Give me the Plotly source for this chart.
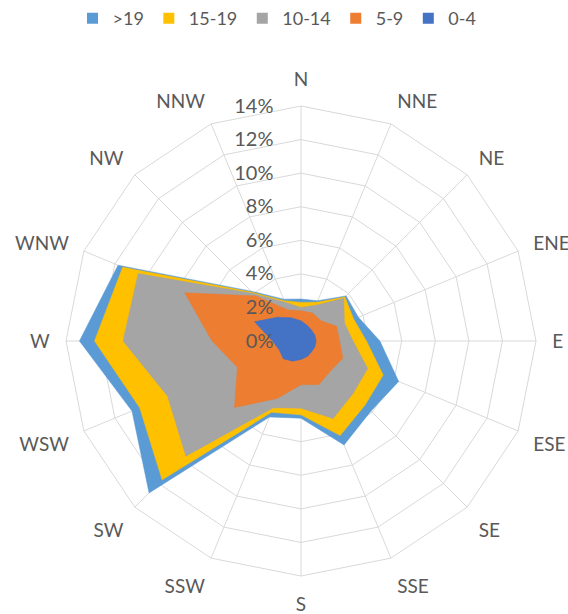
import plotly.graph_objects as go

directions = ["N", "NNE", "NE", "ENE", "E", "ESE", "SE", "SSE",
              "S", "SSW", "SW", "WSW", "W", "WNW", "NW", "NNW"]
series_names = [">19", "15-19", "10-14", "5-9", "0-4"]
colors = ["#5B9BD5", "#FFC000", "#A5A5A5", "#ED7D31", "#4472C4"]

gt19   = [2.5, 2.6, 3.8, 3.7, 4.7, 6.3, 5.9, 6.7, 4.6, 4.9, 12.8, 10.9, 13.2, 11.8, 4.2, 2.7]
s15_19 = [2.3, 2.5, 3.7, 3.4, 3.9, 5.3, 5.4, 6.1, 4.4, 4.6, 11.7, 10.4, 12.3, 11.5, 4.1, 2.6]
s10_14 = [2.0, 2.3, 3.6, 2.8, 3.1, 4.3, 4.4, 5.0, 4.0, 4.3, 9.7, 8.6, 10.6, 10.5, 4.0, 2.5]
s5_9   = [1.8, 1.8, 1.7, 2.3, 2.3, 2.7, 2.5, 2.8, 2.6, 3.7, 5.6, 4.1, 5.3, 7.5, 3.8, 2.0]
s0_4   = [1.2, 1.0, 0.9, 0.9, 0.9, 0.9, 0.9, 1.0, 1.1, 1.3, 1.5, 1.4, 1.7, 3.0, 2.0, 1.5]
series_values = [gt19, s15_19, s10_14, s5_9, s0_4]

radial_ticks = [0, 2, 4, 6, 8, 10, 12, 14]
radial_ticktext = [f"{v}%" for v in radial_ticks]

fig = go.Figure()
for name, vals, col in zip(series_names, series_values, colors):
    fig.add_trace(go.Scatterpolar(
        r=vals + vals[:1],
        theta=directions + directions[:1],
        mode="lines",
        fill="toself",
        fillcolor=col,
        line=dict(color=col, width=0.5),
        name=name,
        showlegend=False,
        hoverinfo="skip",
    ))
# legend entries with square markers
for name, col in zip(series_names, colors):
    fig.add_trace(go.Scatterpolar(
        r=[None], theta=[directions[0]],
        mode="markers",
        marker=dict(symbol="square", size=11, color=col),
        name=name,
        showlegend=True,
    ))

grid_col = "#D9D9D9"
txt_col = "#595959"
W, H = 568, 614
cx, cy, R = 301, 341, 235
fig.update_layout(
    width=W, height=H,
    margin=dict(l=0, r=0, t=0, b=0),
    paper_bgcolor="white",
    plot_bgcolor="white",
    font=dict(family="Lato, 'Open Sans', sans-serif", size=19, color=txt_col),
    showlegend=True,
    legend=dict(orientation="h", x=277 / W, xanchor="center", y=1.0, yanchor="top",
                font=dict(size=18, color=txt_col), itemwidth=30,
                traceorder="normal"),
    polar=dict(
        domain=dict(x=[(cx - R) / W, (cx + R) / W],
                    y=[1 - (cy + R) / H, 1 - (cy - R) / H]),
        bgcolor="white",
        gridshape="linear",
        radialaxis=dict(
            range=[0, 14], tickvals=radial_ticks, ticktext=radial_ticktext,
            angle=90, tickangle=90, side="counterclockwise",
            showline=False, gridcolor=grid_col, gridwidth=1,
            ticks="outside", ticklen=20, tickcolor="rgba(0,0,0,0)",
            tickfont=dict(size=20, color=txt_col),
            layer="above traces",
        ),
        angularaxis=dict(
            type="category", categoryarray=directions,
            direction="clockwise", rotation=90,
            showline=True, linecolor=grid_col, linewidth=1,
            gridcolor=grid_col, gridwidth=1,
            ticks="outside", ticklen=12, tickcolor="rgba(0,0,0,0)",
            tickfont=dict(size=19, color=txt_col),
            layer="below traces",
        ),
    ),
)

fig.write_html("out.html",
               config={"displayModeBar": False},
               post_script="document.body.style.margin='0px';document.body.style.overflow='hidden';")
